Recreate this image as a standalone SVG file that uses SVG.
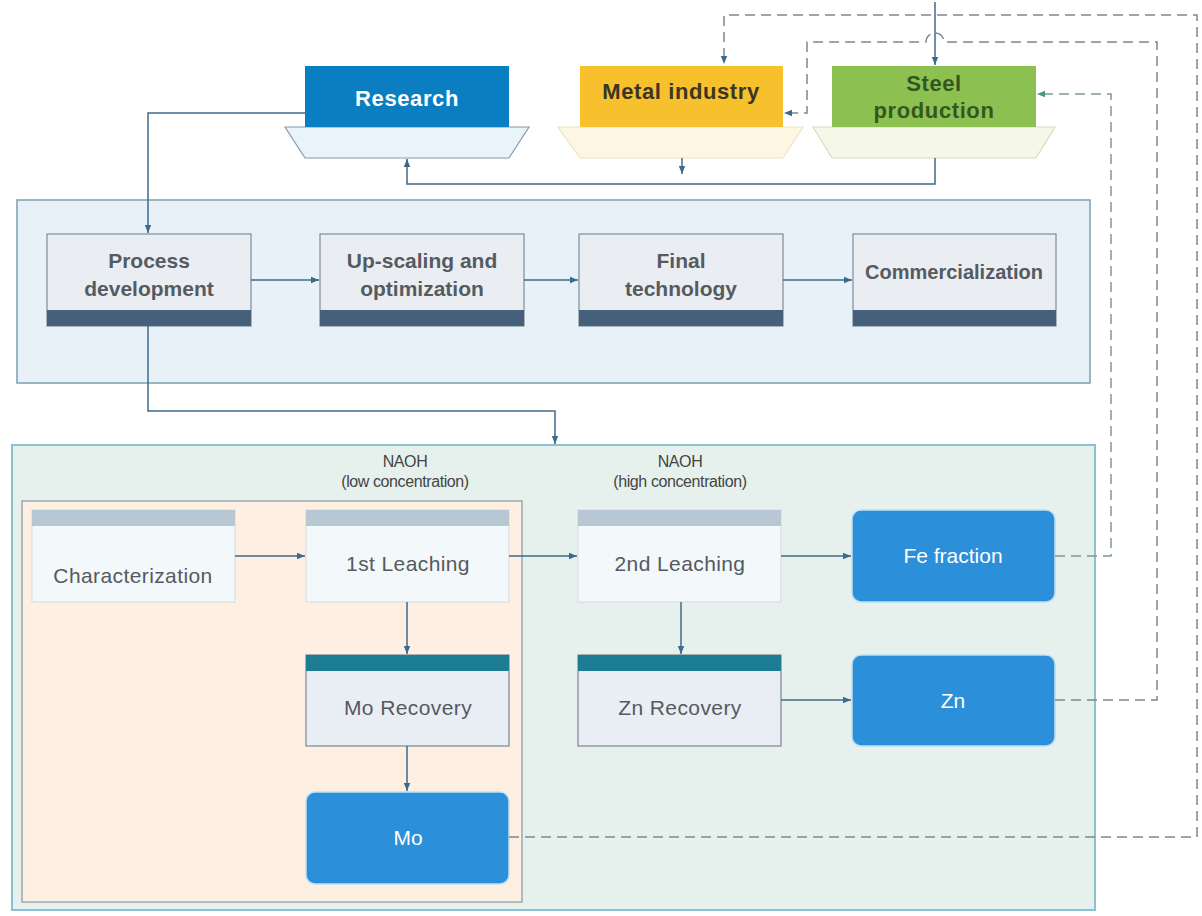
<svg xmlns="http://www.w3.org/2000/svg" width="1202" height="916" viewBox="0 0 1202 916">
<defs>
<style>
.panel1{fill:#e8f1f8;stroke:#7e9fb2;stroke-width:1.5}
.panel2{fill:#e6f1ee;stroke:#8cc0d3;stroke-width:2}
.panel3{fill:#fdf0e3;stroke:#8a979f;stroke-width:1.2}
.pbox{fill:#eaedf2;stroke:#7d8d9b;stroke-width:1.2}
.pband{fill:#45607a}
.ptxt{font-family:"Liberation Sans",Arial,sans-serif;font-weight:bold;font-size:21px;fill:#555b60;text-anchor:middle}
.lbox{fill:#f3f8fb;stroke:#d3dae0;stroke-width:1}
.lhead{fill:#b7c8d4}
.rbox{fill:#e9edf4;stroke:#7b8893;stroke-width:1.2}
.rhead{fill:#1b7c94}
.btxt{font-family:"Liberation Sans",Arial,sans-serif;font-size:21px;fill:#555a5f;text-anchor:middle;letter-spacing:0.4px}
.obox{fill:#2b8fd9;stroke:#bfe0f5;stroke-width:1.5}
.otxt{font-family:"Liberation Sans",Arial,sans-serif;font-size:21px;fill:#ffffff;text-anchor:middle}
.note{font-family:"Liberation Sans",Arial,sans-serif;font-size:16px;fill:#444;text-anchor:middle;letter-spacing:-0.4px}
.ttxt{font-family:"Liberation Sans",Arial,sans-serif;font-weight:bold;font-size:22px;text-anchor:middle;letter-spacing:0.6px}
.solid{fill:none;stroke:#3d6a8a;stroke-width:1.5}
.dash{fill:none;stroke:#7d8790;stroke-width:1.5;stroke-dasharray:10 6}
.dashg{fill:none;stroke:#7f9a90;stroke-width:1.5;stroke-dasharray:10 6}
</style>
<marker id="ah" viewBox="0 0 10 10" refX="10" refY="5" markerWidth="8" markerHeight="8" orient="auto" markerUnits="userSpaceOnUse"><path d="M0,1 L10,5 L0,9 z" fill="#3d6a8a"/></marker>
<marker id="ahg" viewBox="0 0 10 10" refX="10" refY="5" markerWidth="8" markerHeight="8" orient="auto" markerUnits="userSpaceOnUse"><path d="M0,1 L10,5 L0,9 z" fill="#3f9a80"/></marker>
</defs>
<rect width="1202" height="916" fill="#ffffff"/>

<!-- containers -->
<g id="panel-stages"><rect class="panel1" x="17" y="200" width="1073" height="183"/></g>
<g id="panel-process"><rect class="panel2" x="12" y="445" width="1083" height="465"/></g>
<g id="panel-low"><rect class="panel3" x="22" y="501" width="500" height="401"/></g>

<!-- top nodes -->
<g id="research">
<polygon points="285,127 529,127 509,158 305,158" fill="#e9f3fa" stroke="#8a9aa8" stroke-width="1.2"/>
<rect x="305" y="66" width="204" height="61" fill="#0b7dc1"/>
<text class="ttxt" x="407" y="106" fill="#ffffff">Research</text>
</g>
<g id="metal-industry">
<polygon points="558,127 803,127 783,158 580,158" fill="#fdf6e2" stroke="#efe2bd" stroke-width="1.2"/>
<rect x="580" y="66" width="203" height="61" fill="#f6c12d"/>
<text class="ttxt" x="681" y="99" fill="#3b3524">Metal industry</text>
</g>
<g id="steel-production">
<polygon points="813,127 1055,127 1036,158 832,158" fill="#f5f8e9" stroke="#d6dcc2" stroke-width="1.2"/>
<rect x="832" y="66" width="204" height="61" fill="#8cc152"/>
<text class="ttxt" x="934" y="91" fill="#33581f">Steel</text>
<text class="ttxt" x="934" y="118" fill="#33581f">production</text>
</g>

<!-- stage nodes -->
<g id="process-development">
<rect class="pbox" x="47" y="234" width="204" height="92"/>
<rect class="pband" x="47" y="310" width="204" height="16"/>
<text class="ptxt" x="149" y="268">Process</text>
<text class="ptxt" x="149" y="296">development</text>
</g>
<g id="up-scaling">
<rect class="pbox" x="320" y="234" width="204" height="92"/>
<rect class="pband" x="320" y="310" width="204" height="16"/>
<text class="ptxt" x="422" y="268">Up-scaling and</text>
<text class="ptxt" x="422" y="296">optimization</text>
</g>
<g id="final-technology">
<rect class="pbox" x="579" y="234" width="204" height="92"/>
<rect class="pband" x="579" y="310" width="204" height="16"/>
<text class="ptxt" x="681" y="268">Final</text>
<text class="ptxt" x="681" y="296">technology</text>
</g>
<g id="commercialization">
<rect class="pbox" x="853" y="234" width="203" height="92"/>
<rect class="pband" x="853" y="310" width="203" height="16"/>
<text class="ptxt" x="954" y="279" style="font-size:20px">Commercialization</text>
</g>

<!-- labels -->
<g id="label-low">
<text class="note" x="405" y="467">NAOH</text>
<text class="note" x="405" y="487">(low concentration)</text>
</g>
<g id="label-high">
<text class="note" x="680" y="467">NAOH</text>
<text class="note" x="680" y="487">(high concentration)</text>
</g>

<!-- process nodes -->
<g id="characterization">
<rect class="lbox" x="32" y="510" width="203" height="92"/>
<rect class="lhead" x="32" y="510" width="203" height="16"/>
<text class="btxt" x="133" y="583">Characterization</text>
</g>
<g id="leaching-1">
<rect class="lbox" x="306" y="510" width="203" height="92"/>
<rect class="lhead" x="306" y="510" width="203" height="16"/>
<text class="btxt" x="408" y="571">1st Leaching</text>
</g>
<g id="leaching-2">
<rect class="lbox" x="578" y="510" width="203" height="92"/>
<rect class="lhead" x="578" y="510" width="203" height="16"/>
<text class="btxt" x="680" y="571">2nd Leaching</text>
</g>
<g id="mo-recovery">
<rect class="rbox" x="306" y="655" width="203" height="91"/>
<rect class="rhead" x="306" y="655" width="203" height="16"/>
<text class="btxt" x="408" y="715">Mo Recovery</text>
</g>
<g id="zn-recovery">
<rect class="rbox" x="578" y="655" width="203" height="91"/>
<rect class="rhead" x="578" y="655" width="203" height="16"/>
<text class="btxt" x="680" y="715">Zn Recovery</text>
</g>
<g id="fe-fraction">
<rect class="obox" x="852" y="510" width="203" height="92" rx="9"/>
<text class="otxt" x="953" y="563">Fe fraction</text>
</g>
<g id="zn">
<rect class="obox" x="852" y="655" width="203" height="91" rx="9"/>
<text class="otxt" x="953" y="708">Zn</text>
</g>
<g id="mo">
<rect class="obox" x="306" y="792" width="203" height="92" rx="9"/>
<text class="otxt" x="408" y="845">Mo</text>
</g>

<!-- connectors -->
<g id="connectors">
<path class="solid" d="M305,113 H148 V233" marker-end="url(#ah)"/>
<path class="solid" d="M251,280 H319" marker-end="url(#ah)"/>
<path class="solid" d="M524,280 H578" marker-end="url(#ah)"/>
<path class="solid" d="M783,280 H852" marker-end="url(#ah)"/>
<path class="solid" d="M935,158 V184 H407 V159" marker-end="url(#ah)"/>
<path class="solid" d="M682,158 V174" marker-end="url(#ah)"/>
<path class="solid" d="M935,2 V65" marker-end="url(#ah)"/>
<path class="solid" d="M148,326 V411 H555 V444" marker-end="url(#ah)"/>
<path class="solid" d="M235,556 H305" marker-end="url(#ah)"/>
<path class="solid" d="M509,556 H577" marker-end="url(#ah)"/>
<path class="solid" d="M781,556 H851" marker-end="url(#ah)"/>
<path class="solid" d="M407,602 V654" marker-end="url(#ah)"/>
<path class="solid" d="M407,746 V791" marker-end="url(#ah)"/>
<path class="solid" d="M681,602 V654" marker-end="url(#ah)"/>
<path class="solid" d="M781,700 H851" marker-end="url(#ah)"/>
<path class="dash" d="M509,837 H1197 V15 H724 V64" marker-end="url(#ah)"/>
<path class="dash" d="M1055,700 H1157 V42 H944 A9,9 0 0 0 926,42 H807 V113 H784" marker-end="url(#ah)"/>
<path class="dashg" d="M1055,556 H1111 V94 H1037" marker-end="url(#ahg)"/>
</g>
</svg>
